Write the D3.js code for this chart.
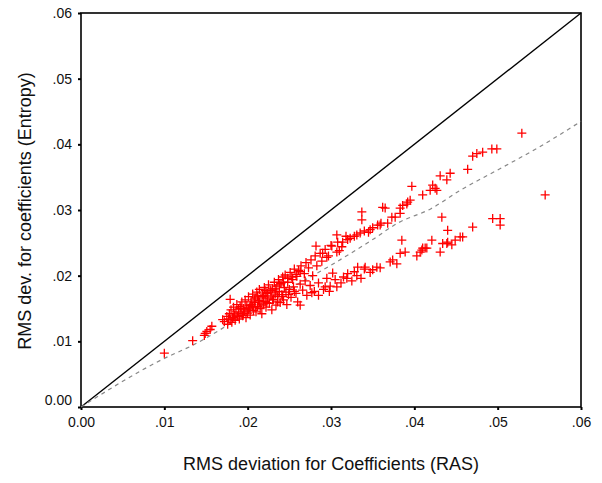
<!DOCTYPE html>
<html><head><meta charset="utf-8">
<script src="https://cdn.jsdelivr.net/npm/d3@7"></script>
<style>body{margin:0;background:#fff}svg{display:block}</style>
</head><body>
<svg id="c" width="602" height="483"></svg>
<script>
// RMS deviation (RAS) vs RMS deviation (Entropy)
const points = [
[0.0100,0.0082],[0.0134,0.0101],[0.0148,0.0109],[0.0151,0.0115],[0.0149,0.0112],[0.0155,0.0118],[0.0157,0.0123],[0.0170,0.0133],[0.0179,0.0164],
[0.0172,0.0130],[0.0175,0.0138],[0.0176,0.0126],[0.0178,0.0142],[0.0179,0.0133],[0.0180,0.0148],[0.0181,0.0129],[0.0182,0.0136],[0.0183,0.0152],[0.0184,0.0140],
[0.0185,0.0132],[0.0186,0.0145],[0.0187,0.0156],[0.0188,0.0138],[0.0189,0.0149],[0.0190,0.0134],[0.0191,0.0153],[0.0192,0.0142],[0.0193,0.0160],[0.0194,0.0139],[0.0195,0.0150],[0.0196,0.0146],
[0.0197,0.0163],[0.0198,0.0136],[0.0199,0.0155],[0.0200,0.0143],[0.0201,0.0168],[0.0202,0.0151],[0.0203,0.0140],[0.0204,0.0160],[0.0205,0.0156],[0.0206,0.0172],[0.0207,0.0147],
[0.0208,0.0159],[0.0209,0.0166],[0.0210,0.0145],[0.0211,0.0175],[0.0212,0.0153],[0.0213,0.0162],[0.0214,0.0179],[0.0215,0.0150],[0.0216,0.0168],[0.0217,0.0142],[0.0218,0.0170],[0.0219,0.0157],[0.0220,0.0182],
[0.0221,0.0161],[0.0222,0.0152],[0.0223,0.0174],[0.0224,0.0166],[0.0225,0.0186],[0.0226,0.0158],[0.0227,0.0178],[0.0228,0.0169],[0.0229,0.0148],[0.0230,0.0180],[0.0231,0.0164],[0.0232,0.0190],[0.0233,0.0172],[0.0234,0.0155],
[0.0235,0.0184],[0.0236,0.0168],[0.0237,0.0194],[0.0238,0.0176],[0.0239,0.0159],[0.0240,0.0188],[0.0241,0.0171],[0.0242,0.0198],[0.0243,0.0163],[0.0244,0.0182],[0.0245,0.0201],[0.0246,0.0175],[0.0247,0.0156],[0.0248,0.0190],
[0.0250,0.0179],[0.0251,0.0205],[0.0252,0.0167],[0.0254,0.0194],[0.0255,0.0183],[0.0256,0.0210],[0.0258,0.0173],[0.0259,0.0199],[0.0260,0.0160],[0.0261,0.0208],[0.0263,0.0187],[0.0264,0.0215],[0.0266,0.0178],[0.0268,0.0203],[0.0269,0.0192],
[0.0270,0.0220],[0.0271,0.0170],[0.0273,0.0212],[0.0275,0.0185],[0.0276,0.0224],[0.0278,0.0200],[0.0280,0.0176],[0.0281,0.0230],[0.0283,0.0215],[0.0285,0.0189],[0.0287,0.0234],[0.0289,0.0222],[0.0291,0.0179],[0.0293,0.0240],[0.0295,0.0196],[0.0297,0.0230],[0.0299,0.0184],[0.0300,0.0246],
[0.0192,0.0150],[0.0198,0.0150],[0.0203,0.0154],[0.0208,0.0163],[0.0214,0.0160],[0.0219,0.0168],[0.0224,0.0173],[0.0228,0.0177],[0.0233,0.0180],[0.0238,0.0186],[0.0243,0.0190],[0.0248,0.0196],[0.0253,0.0198],[0.0258,0.0202],[0.0263,0.0206],
[0.0195,0.0142],[0.0201,0.0148],[0.0209,0.0152],[0.0216,0.0155],[0.0223,0.0159],[0.0230,0.0163],[0.0236,0.0160],[0.0242,0.0168],[0.0249,0.0171],[0.0256,0.0176],[0.0183,0.0137],[0.0189,0.0143],[0.0177,0.0134],[0.0206,0.0153],[0.0212,0.0169],[0.0221,0.0177],[0.0234,0.0175],
[0.0282,0.0245],[0.0290,0.0234],[0.0301,0.0245],[0.0295,0.0228],[0.0307,0.0262],[0.0318,0.0260],[0.0313,0.0244],[0.0308,0.0251],[0.0310,0.0238],[0.0307,0.0236],[0.0314,0.0251],[0.0323,0.0257],[0.0331,0.0262],[0.0335,0.0265],[0.0347,0.0270],
[0.0356,0.0277],[0.0360,0.0280],[0.0359,0.0277],[0.0337,0.0285],[0.0337,0.0297],[0.0362,0.0304],[0.0365,0.0303],[0.0373,0.0289],[0.0377,0.0289],[0.0383,0.0295],[0.0383,0.0303],[0.0386,0.0307],[0.0391,0.0309],[0.0392,0.0312],[0.0395,0.0315],
[0.0397,0.0336],[0.0410,0.0323],[0.0419,0.0330],[0.0422,0.0338],[0.0425,0.0333],[0.0427,0.0330],[0.0431,0.0352],[0.0439,0.0346],[0.0443,0.0356],[0.0464,0.0362],[0.0470,0.0382],[0.0475,0.0386],[0.0482,0.0388],[0.0493,0.0393],[0.0499,0.0393],[0.0529,0.0417],
[0.0320,0.0255],[0.0328,0.0260],[0.0340,0.0268],[0.0345,0.0266],[0.0350,0.0273],[0.0368,0.0280],
[0.0557,0.0323],
[0.0263,0.0155],[0.0277,0.0174],[0.0285,0.0170],[0.0293,0.0183],[0.0298,0.0176],[0.0307,0.0183],[0.0312,0.0189],[0.0319,0.0196],[0.0302,0.0204],[0.0325,0.0192],[0.0331,0.0200],[0.0332,0.0213],[0.0336,0.0196],
[0.0340,0.0210],[0.0341,0.0213],[0.0347,0.0205],[0.0350,0.0209],[0.0355,0.0213],[0.0359,0.0212],[0.0371,0.0221],[0.0379,0.0218],[0.0374,0.0224],[0.0383,0.0234],[0.0385,0.0254],[0.0389,0.0236],[0.0403,0.0230],
[0.0407,0.0236],[0.0409,0.0239],[0.0410,0.0242],[0.0413,0.0242],[0.0415,0.0242],[0.0421,0.0254],[0.0431,0.0236],[0.0434,0.0249],[0.0439,0.0249],[0.0440,0.0251],[0.0445,0.0247],[0.0449,0.0254],[0.0455,0.0259],[0.0458,0.0259],
[0.0440,0.0269],[0.0433,0.0289],[0.0470,0.0274],[0.0494,0.0287],[0.0503,0.0287],[0.0503,0.0277],
[0.0315,0.0198],[0.0320,0.0203],[0.0328,0.0206],[0.0305,0.0194]
];
// fit line (dashed)
const fitX = [0, 0.010, 0.0134, 0.020, 0.025, 0.030, 0.035, 0.038, 0.042, 0.0455, 0.050, 0.055, 0.060];
const fitY = [0, 0.0074, 0.0094, 0.0143, 0.0180, 0.0216, 0.0255, 0.0280, 0.0302, 0.0330, 0.0361, 0.0396, 0.0435];
const ticks = [0, 0.01, 0.02, 0.03, 0.04, 0.05, 0.06];
const xTitle = "RMS deviation for Coefficients (RAS)";
const yTitle = "RMS dev. for coefficients (Entropy)";

const svg = d3.select("#c");
const x = d3.scaleLinear().domain([0, 0.06]).range([81, 581]);
const y = d3.scaleLinear().domain([0, 0.06]).range([407, 13]);
const fmt = v => v === 0 ? "0.00" : d3.format(".2f")(v).replace(/^0/, "");
const font = "'Liberation Sans', Arial, sans-serif";

// axes
const gx = svg.append("g").attr("transform", "translate(0,407)")
  .call(d3.axisBottom(x).tickValues(ticks).tickFormat(fmt).tickSize(3).tickPadding(7));
const gy = svg.append("g").attr("transform", "translate(81,0)")
  .call(d3.axisLeft(y).tickValues(ticks).tickFormat(fmt).tickSize(3).tickPadding(6));
[gx, gy].forEach(g => {
  g.select(".domain").remove();
  g.selectAll(".tick line").attr("stroke", "#000").attr("stroke-width", 2);
  g.selectAll("text").attr("font-family", font).attr("font-size", 14).attr("fill", "#111");
});
gy.selectAll(".tick").filter(d => d === 0).select("text").attr("dy", "-0.15em");

// frame
svg.append("rect").attr("x", 81).attr("y", 13).attr("width", 500).attr("height", 394)
  .attr("fill", "none").attr("stroke", "#000").attr("stroke-width", 1.6);

// diagonal reference line
svg.append("line").attr("x1", x(0)).attr("y1", y(0)).attr("x2", x(0.06)).attr("y2", y(0.06))
  .attr("stroke", "#000").attr("stroke-width", 1.4);

// fit line
const fit = fitX.map((v, i) => [v, fitY[i]]);
svg.append("path").datum(fit)
  .attr("d", d3.line().x(d => x(d[0])).y(d => y(d[1])).curve(d3.curveMonotoneX))
  .attr("fill", "none").attr("stroke", "#888").attr("stroke-width", 1.2).attr("stroke-dasharray", "4,4");

// points
svg.append("g").selectAll("path").data(points).join("path")
  .attr("transform", d => `translate(${x(d[0])},${y(d[1])})`)
  .attr("d", "M-4.5,0H4.5M0,-4.5V4.5")
  .attr("stroke", "#ff0000").attr("stroke-width", 1.3).attr("fill", "none");

// titles
svg.append("text").attr("x", 331).attr("y", 470).attr("text-anchor", "middle")
  .attr("font-family", font).attr("font-size", 18).attr("fill", "#111").text(xTitle);
svg.append("text").attr("transform", "translate(31,211) rotate(-90)").attr("text-anchor", "middle")
  .attr("font-family", font).attr("font-size", 18).attr("fill", "#111").text(yTitle);
</script>
</body></html>
